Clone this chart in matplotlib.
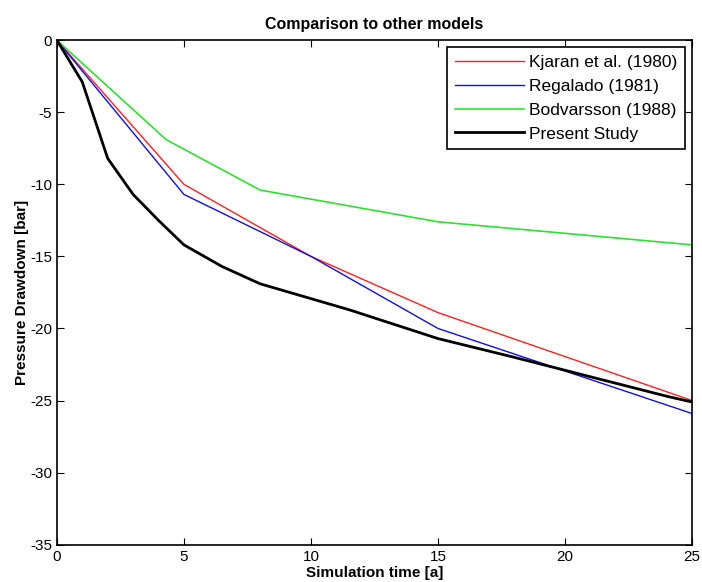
import numpy as np
import matplotlib.pyplot as plt

plt.rcParams['font.family'] = ['Liberation Sans', 'DejaVu Sans']
plt.rcParams['axes.unicode_minus'] = False

# series (time [a], drawdown [bar])
t_kjaran = [0, 5, 10, 15, 25]
p_kjaran = [0, -10.0, -15.0, -18.9, -25.0]

t_regalado = [0, 5, 10, 15, 25]
p_regalado = [0, -10.7, -15.0, -20.0, -25.9]

t_bodv = [0, 4.3, 8, 15, 20, 25]
p_bodv = [0, -6.9, -10.4, -12.6, -13.4, -14.2]

t_present = [0, 1, 2, 3, 4, 5, 6.5, 8, 11.5, 15, 18, 20, 24, 25]
p_present = [0, -2.9, -8.2, -10.7, -12.5, -14.2, -15.7, -16.9, -18.7, -20.7, -22.0, -22.9, -24.7, -25.1]

labels = ['Kjaran et al. (1980)', 'Regalado (1981)', 'Bodvarsson (1988)', 'Present Study']

fig = plt.figure(figsize=(7.02, 5.82), dpi=100)
ax = fig.add_axes([0.081, 0.064, 0.905, 0.867])

ax.plot(t_kjaran, p_kjaran, color='#ff2020', linewidth=1.0, label=labels[0])
ax.plot(t_regalado, p_regalado, color='#1010e0', linewidth=1.0, label=labels[1])
ax.plot(t_bodv, p_bodv, color='#30e030', linewidth=1.2, label=labels[2])
ax.plot(t_present, p_present, color='k', linewidth=2.0, label=labels[3])

ax.set_xlim([0, 25])
ax.set_ylim([-35, 0])
ax.set_xticks(np.arange(0, 26, 5))
ax.set_yticks(np.arange(-35, 1, 5))
ax.tick_params(direction='in', top=True, right=True, labelsize=11, length=5)
for s in ax.spines.values():
    s.set_linewidth(1.2)

ax.set_xlabel('Simulation time [a]', fontsize=11, fontweight='bold', labelpad=2)
ax.set_ylabel('Pressure Drawdown [bar]', fontsize=11, fontweight='bold', labelpad=1)
ax.set_title('Comparison to other models', fontsize=11.5, fontweight='bold', pad=8)

leg = ax.legend(loc='upper right', fontsize=12.5, fancybox=False, framealpha=1,
                edgecolor='k', handlelength=4.0, handletextpad=0.3,
                labelspacing=0.5, borderaxespad=0.4, borderpad=0.45)
leg.get_frame().set_linewidth(1.2)

plt.savefig('out.png', dpi=100)
